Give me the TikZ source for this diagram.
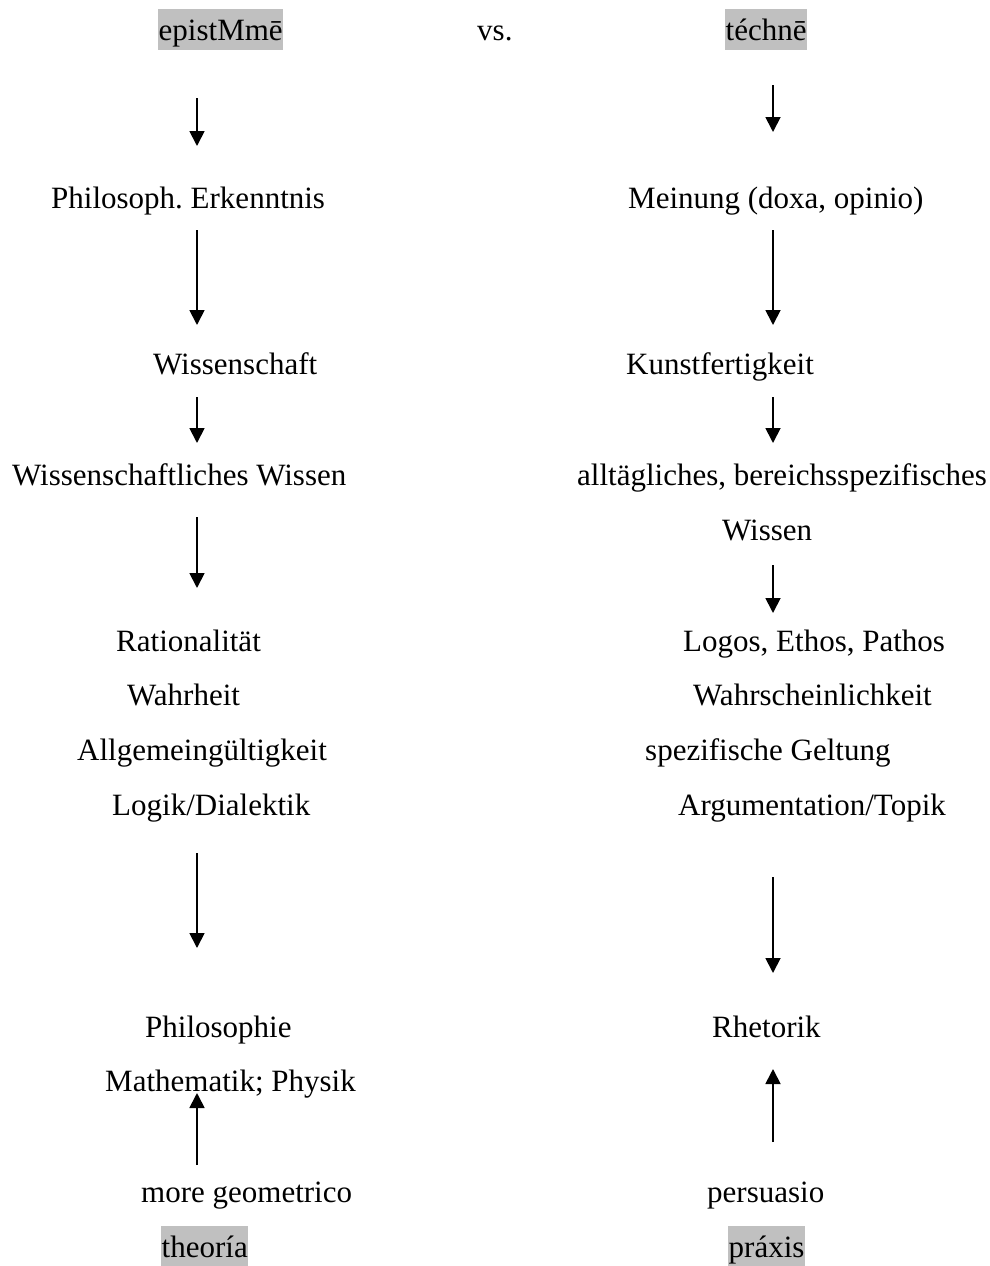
\documentclass[tikz,border=0pt]{standalone}
\usepackage{fontspec}
\setmainfont{Liberation Serif}
\usetikzlibrary{arrows.meta}
\definecolor{hgrau}{RGB}{192,192,192}
\frenchspacing
\tikzset{
  txt/.style={anchor=base west, inner sep=0pt, font=\fontsize{31}{37}\selectfont},
  markiert/.style={txt, fill=hgrau, inner xsep=0.5pt, inner ysep=1.5pt, text height=29.5pt, text depth=8.5pt},
  pfeil/.style={line width=1.8pt, -{Triangle[length=15pt,width=15pt]}}
}
\begin{document}
\begin{tikzpicture}[x=1pt, y=-1pt]
    \useasboundingbox (0,0) rectangle (990,1266);
    % linke Spalte
    \node [markiert] (episteme) at (158,40) {epistMmē};
    \node [txt] (erkenntnis) at (51,208) {Philosoph. Erkenntnis};
    \node [txt] (wissenschaft) at (153,374) {Wissenschaft};
    \node [txt] (wisswissen) at (12,485) {Wissenschaftliches Wissen};
    \node [txt] (rational) at (116,651) {Rationalität};
    \node [txt] (wahrheit) at (127,705) {Wahrheit};
    \node [txt] (allgemein) at (77,760) {Allgemeingültigkeit};
    \node [txt] (logik) at (112,815) {Logik/Dialektik};
    \node [txt] (philosophie) at (145,1037) {Philosophie};
    \node [txt] (mathe) at (105,1091) {Mathematik; Physik};
    \node [txt] (geometrico) at (141,1202) {more geometrico};
    \node [markiert] (theoria) at (161,1257) {theoría};
    % Mitte
    \node [txt] (vs) at (477,40) {vs.};
    % rechte Spalte
    \node [markiert] (techne) at (725,40) {téchnē};
    \node [txt] (meinung) at (628,208) {Meinung (doxa, opinio)};
    \node [txt] (kunst) at (626,374) {Kunstfertigkeit};
    \node [txt] (alltag) at (577,485) {alltägliches, bereichsspezifisches};
    \node [txt] (wissen) at (722,540) {Wissen};
    \node [txt] (logos) at (683,651) {Logos, Ethos, Pathos};
    \node [txt] (wahrsch) at (693,705) {Wahrscheinlichkeit};
    \node [txt] (geltung) at (645,760) {spezifische Geltung};
    \node [txt] (topik) at (678,815) {Argumentation/Topik};
    \node [txt] (rhetorik) at (712,1037) {Rhetorik};
    \node [txt] (persuasio) at (707,1202) {persuasio};
    \node [markiert] (praxis) at (728,1257) {práxis};
    % Pfeile
    \foreach \n/\x/\ya/\yb in {la/197/98/146, lb/197/230/325, lc/197/397/443, ld/197/517/588,
        le/197/853/948, lf/197/1165/1093, ra/773/85/132, rb/773/230/325, rc/773/397/443,
        rd/773/565/613, re/773/877/973, rf/773/1142/1069} {
        \coordinate (\n1) at (\x,\ya);
        \coordinate (\n2) at (\x,\yb);
        \draw [pfeil] (\n1) -- (\n2);
    }
\end{tikzpicture}
\end{document}
